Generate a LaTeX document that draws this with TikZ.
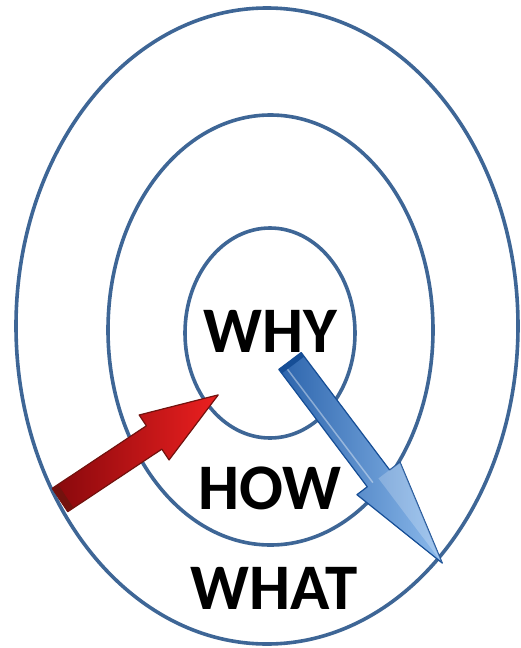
\documentclass[tikz,border=0pt]{standalone}
\usepackage{fontspec}
\setmainfont{Carlito}
\definecolor{ring}{RGB}{62,102,150}
\definecolor{redD}{RGB}{135,8,12}
\definecolor{redL}{RGB}{236,32,32}
\definecolor{redE}{RGB}{115,18,14}
\definecolor{bluD}{RGB}{44,100,172}
\definecolor{bluM}{RGB}{66,122,192}
\definecolor{bluL}{RGB}{140,186,236}
\definecolor{bluE}{RGB}{22,78,150}
\begin{document}
\begin{tikzpicture}[x=1pt,y=1pt,
  ringline/.style={draw=ring,line width=3.6pt},
  label/.style={font=\bfseries\fontsize{65}{65}\selectfont,inner sep=0pt,text=black}]
\useasboundingbox (0,0) rectangle (521,-648);
\fill[white] (0,0) rectangle (521,-648);
% rings
\coordinate (c1) at (267,-326);
\coordinate (c2) at (270.5,-330);
\coordinate (c3) at (270,-333);
\draw[ringline] (c1) ellipse [x radius=251, y radius=318];
\draw[ringline] (c2) ellipse [x radius=162.5, y radius=215];
\draw[ringline] (c3) ellipse [x radius=85, y radius=105];
% labels
\node[label] (why) at (270,-331) {WHY};
\node[label] (how) at (270,-488) {HOW};
\node[label] (what) at (274,-588) {WHAT};
% red arrow
\begin{scope}[shift={(60,-500)},rotate=33.6]
  \fill[left color=redD,right color=redL,draw=redE,line width=1.2pt,line join=round]
    (0,-14) -- (113,-14) -- (113,-27) -- (190,0) -- (113,27) -- (113,14) -- (0,14) -- cycle;
  \fill[redE] (0,-14) -- (7,-14) -- (7,14) -- (0,14) -- cycle;
\end{scope}
% blue arrow
\begin{scope}[shift={(290,-361)},rotate=-53]
  \fill[left color=bluD,middle color=bluM,right color=bluL,draw=bluE,line width=1.2pt,line join=round]
    (0,-14) -- (147,-14) -- (147,-27) -- (253,0) -- (147,27) -- (147,14) -- (0,14) -- cycle;
  \fill[white,opacity=0.22] (147,0) -- (253,0) -- (147,27) -- (147,14) -- cycle;
  \draw[white,opacity=0.4,line width=1.5pt] (4,-7) -- (147,-7);
  \fill[bluE] (0,-14) -- (5,-14) -- (5,14) -- (0,14) -- cycle;
\end{scope}
\end{tikzpicture}
\end{document}
